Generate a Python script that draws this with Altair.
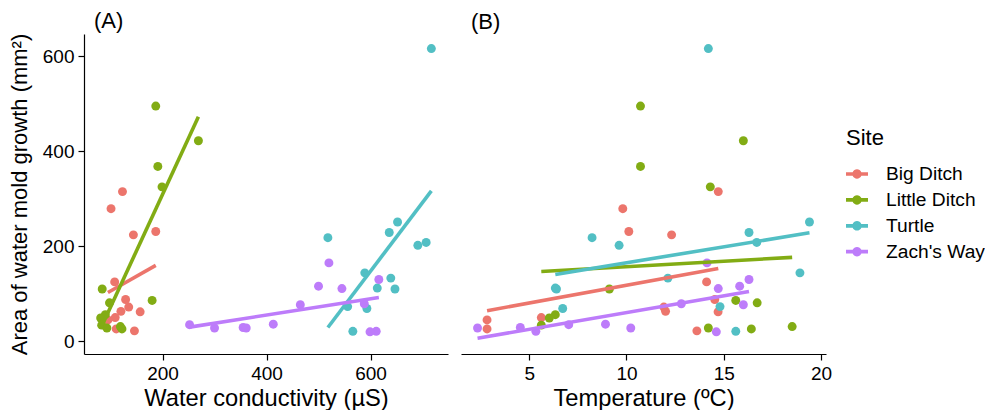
import altair as alt
import pandas as pd

# ---- data ----
site_names = ["Big Ditch", "Little Ditch", "Turtle", "Zach's Way"]
site_colors = ["#EC756C", "#82AC14", "#52BFC4", "#BD7CFA"]

big_area = [315, 279, 231, 224, 125, 88, 72, 63, 62, 50, 45, 26, 22]
big_cond = [123, 101, 187, 144, 108, 129, 135, 120, 157, 109, 95, 111, 146]
big_temp = [14.72, 9.81, 10.12, 12.32, 14.12, 14.54, 11.92, 12.01, 14.71, 5.62, 2.83, 2.83, 13.62]

little_area = [495, 422, 368, 325, 110, 86, 81, 56, 49, 34, 31, 28, 26]
little_cond = [187, 269, 191, 199, 84, 180, 98, 90, 81, 83, 119, 93, 122]
little_temp = [10.72, 16.01, 10.72, 14.31, 9.12, 15.62, 16.72, 6.34, 6.03, 5.62, 18.52, 14.21, 16.42]

turtle_area = [616, 251, 229, 218, 208, 202, 144, 133, 112, 110, 73, 69, 21]
turtle_cond = [717, 652, 636, 518, 707, 691, 589, 639, 613, 647, 556, 593, 566]
turtle_temp = [14.21, 19.41, 16.3, 8.23, 16.7, 9.62, 18.92, 12.13, 6.34, 6.4, 14.81, 6.72, 15.62]

zach_area = [165, 130, 116, 111, 79, 77, 36, 35, 28, 29, 28, 21, 20]
zach_cond = [520, 616, 500, 545, 588, 465, 413, 252, 300, 355, 361, 611, 599]
zach_temp = [14.14, 16.3, 15.82, 14.72, 12.82, 16.01, 8.92, 7.03, 2.34, 4.54, 10.22, 5.34, 14.62]

y_ticks = [0, 200, 400, 600]
cond_ticks = [200, 400, 600]
temp_ticks = [5, 10, 15, 20]

rows = []
for name, a, c, t in [
    ("Big Ditch", big_area, big_cond, big_temp),
    ("Little Ditch", little_area, little_cond, little_temp),
    ("Turtle", turtle_area, turtle_cond, turtle_temp),
    ("Zach's Way", zach_area, zach_cond, zach_temp),
]:
    for ai, ci, ti in zip(a, c, t):
        rows.append({"site": name, "area": ai, "cond": ci, "temp": ti})
df = pd.DataFrame(rows)

FONT = "Liberation Sans"
legend_symbol = ("M-1,-0.17L-0.395,-0.17A0.43,0.43,0,0,1,0.395,-0.17L1,-0.17L1,0.17"
                 "L0.395,0.17A0.43,0.43,0,0,1,-0.395,0.17L-1,0.17Z")

color_scale = alt.Scale(domain=site_names, range=site_colors)
y_scale = alt.Scale(domain=[-26.7, 646.6], nice=False, zero=False)


def panel(field, title, domain, ticks, label, show_y, w):
    y_axis = alt.Axis(values=y_ticks, title="Area of water mold growth (mm²)",
                      titlePadding=11, titleFontSize=22) if show_y else None
    x = alt.X(f"{field}:Q", scale=alt.Scale(domain=domain, nice=False, zero=False),
              axis=alt.Axis(values=ticks, title=title))
    y = alt.Y("area:Q", scale=y_scale, axis=y_axis)
    pts = alt.Chart(df).mark_circle(size=80, opacity=1).encode(
        x=x, y=y,
        color=alt.Color("site:N", scale=color_scale,
                        legend=alt.Legend(title="Site", symbolType=legend_symbol)),
    )
    lines = alt.Chart(df).transform_regression(
        field, "area", groupby=["site"]
    ).mark_line(strokeWidth=3.6).encode(
        x=x, y=y, color=alt.Color("site:N", scale=color_scale, legend=None)
    )
    return alt.layer(pts, lines).properties(
        width=w, height=320,
        title=alt.TitleParams(label, anchor="start", frame="group", dx=10, fontSize=22,
                              fontWeight="normal", font=FONT, offset=0, color="black"),
    )


pa = panel("cond", "Water conductivity (µS)", [49, 749], cond_ticks, "(A)", True, 364)
pb = panel("temp", "Temperature (ºC)", [1.49, 20.26], temp_ticks, "(B)", False, 365)

chart = alt.hconcat(pa, pb, spacing=13).properties(
    padding={"left": 0, "top": 2, "right": 0, "bottom": 0}
).configure_view(stroke=None).configure_axis(
    grid=False, domainColor="black", domainWidth=1.2, tickColor="black",
    tickWidth=1.2, tickSize=6, labelColor="black", labelFont=FONT,
    labelFontSize=19, labelPadding=4, titleFont=FONT, titleFontSize=23.7,
    titleFontWeight="normal", titleColor="black", titlePadding=3,
).configure_legend(
    orient="none", legendX=762, legendY=94,
    titleFont=FONT, titleFontSize=22, titleFontWeight="normal", titleColor="black",
    titlePadding=13, labelFont=FONT, labelFontSize=19.2, labelColor="black",
    symbolSize=484, symbolStrokeWidth=0, labelOffset=18, rowPadding=3.9,
)

chart.save("out.html", embed_options={"renderer": "svg", "actions": False})
